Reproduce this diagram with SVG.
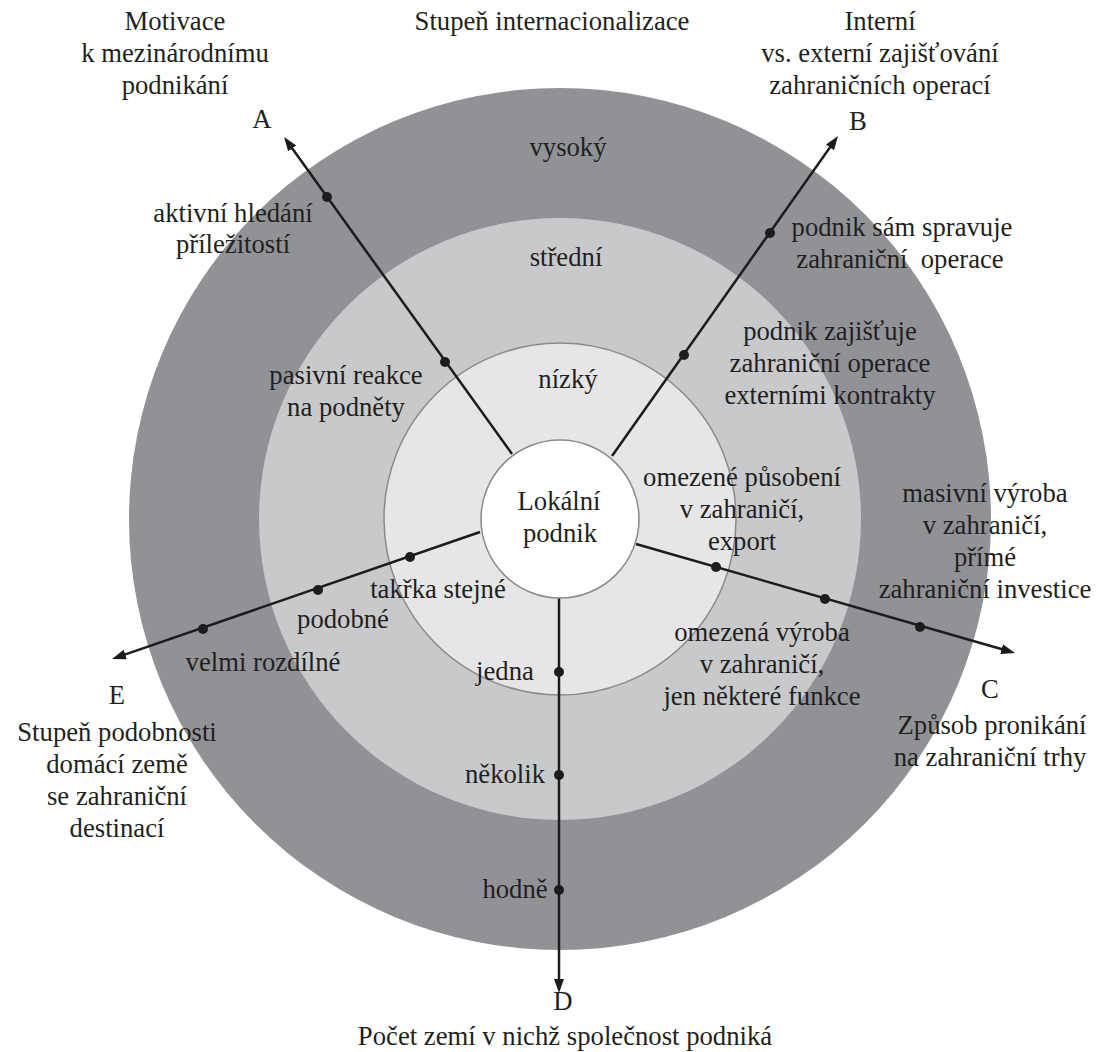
<svg xmlns="http://www.w3.org/2000/svg" width="1101" height="1052" viewBox="0 0 1101 1052">
<style>
.t text{font-family:'Liberation Serif','Times New Roman','DejaVu Serif',serif;font-size:26.7px;fill:#231f20;text-anchor:middle}
.ax{stroke:#1c1c1c;stroke-width:2.5;fill:none}
.dot{fill:#1c1c1c}
</style>
<defs>
<marker id="ah" markerUnits="userSpaceOnUse" markerWidth="16" markerHeight="12" refX="6" refY="5" orient="auto">
<path d="M0,0 L14,5 L0,10 z" fill="#1c1c1c"/>
</marker>
</defs>
<rect width="1101" height="1052" fill="#fff"/>
<g id="rings">
<circle cx="560" cy="519" r="431" fill="#919296"/>
<circle cx="560" cy="519" r="301" fill="#c8c9cb"/>
<circle cx="560" cy="519" r="176" fill="#e6e6e8" stroke="#8a8a8c" stroke-width="1.5"/>
</g>
<g id="connectors">
<line class="ax" x1="512" y1="454" x2="288.7" y2="143.5" marker-end="url(#ah)"/>
<line class="ax" x1="612" y1="456" x2="833.4" y2="142.5" marker-end="url(#ah)"/>
<line class="ax" x1="636" y1="544" x2="1007.3" y2="650.8" marker-end="url(#ah)"/>
<line class="ax" x1="559" y1="598" x2="559" y2="985" marker-end="url(#ah)"/>
<line class="ax" x1="480" y1="532" x2="119.6" y2="656.4" marker-end="url(#ah)"/>
<circle class="dot" cx="445" cy="362" r="5"/>
<circle class="dot" cx="327" cy="197" r="5"/>
<circle class="dot" cx="684" cy="355" r="5"/>
<circle class="dot" cx="770" cy="233" r="5"/>
<circle class="dot" cx="716" cy="567" r="5"/>
<circle class="dot" cx="825" cy="599" r="5"/>
<circle class="dot" cx="920" cy="627" r="5"/>
<circle class="dot" cx="559" cy="672" r="5"/>
<circle class="dot" cx="559" cy="775" r="5"/>
<circle class="dot" cx="559" cy="890" r="5"/>
<circle class="dot" cx="410" cy="557" r="5"/>
<circle class="dot" cx="318" cy="590" r="5"/>
<circle class="dot" cx="203" cy="629" r="5"/>
</g>
<g class="t" font-family="Liberation Serif">
<g id="center">
<circle cx="560" cy="519" r="79" fill="#fff" stroke="#8a8a8c" stroke-width="1.5"/>
<text x="559" y="510">Lokální</text>
<text x="560" y="542">podnik</text>
</g>
<g id="title"><text x="552" y="30">Stupeň internacionalizace</text></g>
<g id="level-high"><text x="568" y="156">vysoký</text></g>
<g id="level-mid"><text x="566" y="266">střední</text></g>
<g id="level-low"><text x="568" y="388">nízký</text></g>
<g id="axis-A">
<text x="175" y="30">Motivace</text>
<text x="175" y="62">k mezinárodnímu</text>
<text x="175" y="94">podnikání</text>
<text x="262" y="128">A</text>
</g>
<g id="A-high"><text x="233" y="222">aktivní hledání</text><text x="233" y="253">příležitostí</text></g>
<g id="A-low"><text x="346" y="384">pasivní reakce</text><text x="346" y="416">na podněty</text></g>
<g id="axis-B">
<text x="880" y="30">Interní</text>
<text x="880" y="62">vs. externí zajišťování</text>
<text x="880" y="94">zahraničních operací</text>
<text x="858" y="130">B</text>
</g>
<g id="B-high"><text x="902" y="236">podnik sám spravuje</text><text x="900" y="268">zahraniční&#160; operace</text></g>
<g id="B-low"><text x="830" y="340">podnik zajišťuje</text><text x="830" y="372">zahraniční operace</text><text x="830" y="404">externími kontrakty</text></g>
<g id="axis-C">
<text x="990" y="698">C</text>
<text x="992" y="734">Způsob pronikání</text>
<text x="990" y="766">na zahraniční trhy</text>
</g>
<g id="C-low"><text x="742" y="486">omezené působení</text><text x="742" y="518">v zahraničí,</text><text x="742" y="550">export</text></g>
<g id="C-mid"><text x="762" y="641">omezená výroba</text><text x="762" y="673">v zahraničí,</text><text x="762" y="705">jen některé funkce</text></g>
<g id="C-high"><text x="985" y="502">masivní výroba</text><text x="985" y="534">v zahraničí,</text><text x="985" y="566">přímé</text><text x="985" y="598">zahraniční investice</text></g>
<g id="axis-D">
<text x="563" y="1010">D</text>
<text x="565" y="1045">Počet zemí v nichž společnost podniká</text>
</g>
<g id="D-low"><text x="505" y="680">jedna</text></g>
<g id="D-mid"><text x="505" y="783">několik</text></g>
<g id="D-high"><text x="515" y="898">hodně</text></g>
<g id="axis-E">
<text x="117" y="704">E</text>
<text x="117" y="741">Stupeň podobnosti</text>
<text x="117" y="773">domácí země</text>
<text x="117" y="805">se zahraniční</text>
<text x="117" y="837">destinací</text>
</g>
<g id="E-low"><text x="438" y="598">takřka stejné</text></g>
<g id="E-mid"><text x="343" y="628">podobné</text></g>
<g id="E-high"><text x="263" y="671">velmi rozdílné</text></g>
</g>
</svg>
